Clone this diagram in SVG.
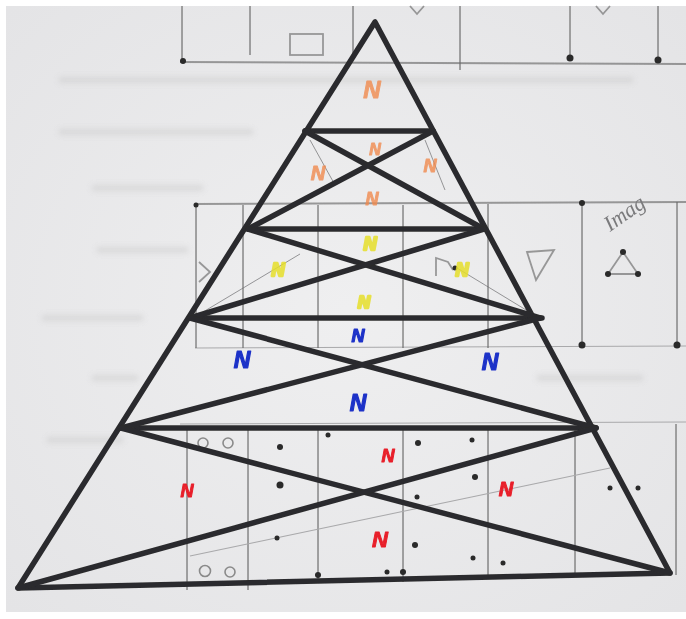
<svg xmlns="http://www.w3.org/2000/svg" width="686" height="619" viewBox="0 0 686 619">
<defs>
<filter id="soft" x="-5%" y="-5%" width="110%" height="110%"><feGaussianBlur stdDeviation="0.7"/></filter>
<filter id="blur2" x="-20%" y="-50%" width="140%" height="200%"><feGaussianBlur stdDeviation="2.5"/></filter>
<radialGradient id="paper" cx="50%" cy="50%" r="70%">
<stop offset="0" stop-color="#efeff0"/><stop offset="1" stop-color="#e4e4e6"/>
</radialGradient>
</defs>
<style>
.grid{stroke:#6a6a6a;stroke-width:1.8;fill:none;opacity:.65}
.faint{stroke:#a9a9ab;stroke-width:1.2;fill:none}
.ghost{stroke:#c2c2c4;stroke-width:7;stroke-linecap:round;opacity:.35}
.dot{fill:#2a2a2a}
.ring{fill:none;stroke:#8a8a8a;stroke-width:1.6}
.beam{stroke:#2b2b2d;stroke-width:5.5;stroke-linecap:round;fill:none}
.pencil{stroke:#6e6e70;stroke-width:1;fill:none;opacity:.7}
.n{font-family:"Liberation Sans",Arial,sans-serif;font-weight:bold;font-style:italic;text-anchor:middle;stroke-linejoin:round}
.o{fill:#f08a4e;stroke:#f08a4e;stroke-width:1;opacity:.8}
.y{fill:#e6df2c;stroke:#e6df2c;stroke-width:2.5;opacity:.85}
.b{fill:#1f32c8;stroke:#1f32c8;stroke-width:1.2}
.r{fill:#e8202a;stroke:#e8202a;stroke-width:1}
</style>
<rect width="686" height="619" fill="#ffffff"/>
<rect x="6" y="6" width="680" height="606" fill="url(#paper)"/>

<g id="background" filter="url(#soft)">
<g filter="url(#blur2)">
<line class="ghost" x1="62" y1="80" x2="630" y2="80"/>
<line class="ghost" x1="62" y1="132" x2="250" y2="132"/>
<line class="ghost" x1="95" y1="188" x2="200" y2="188"/>
<line class="ghost" x1="100" y1="250" x2="185" y2="250"/>
<line class="ghost" x1="45" y1="318" x2="140" y2="318"/>
<line class="ghost" x1="95" y1="378" x2="135" y2="378"/>
<line class="ghost" x1="540" y1="378" x2="640" y2="378"/>
<line class="ghost" x1="50" y1="440" x2="120" y2="440"/>
</g>
<line class="grid" x1="180" y1="62" x2="686" y2="64"/>
<line class="grid" x1="182" y1="6" x2="182" y2="62"/>
<line class="grid" x1="250" y1="6" x2="250" y2="55"/>
<line class="grid" x1="353" y1="6" x2="353" y2="60"/>
<line class="grid" x1="460" y1="6" x2="460" y2="70"/>
<line class="grid" x1="570" y1="6" x2="570" y2="60"/>
<line class="grid" x1="658" y1="6" x2="658" y2="62"/>
<circle class="dot" cx="183" cy="61" r="3"/>
<circle class="dot" cx="570" cy="58" r="3.5"/>
<circle class="dot" cx="658" cy="60" r="3.5"/>
<rect class="grid" x="290" y="34" width="33" height="21"/>
<path class="grid" d="M410 6 L417 14 L424 6"/>
<path class="grid" d="M596 6 L603 14 L610 6"/>
<line class="grid" x1="195" y1="204" x2="686" y2="202"/>
<line class="faint" x1="195" y1="348" x2="686" y2="346"/>
<line class="grid" x1="196" y1="205" x2="196" y2="348"/>
<line class="grid" x1="243" y1="205" x2="243" y2="348"/>
<line class="grid" x1="318" y1="205" x2="318" y2="348"/>
<line class="grid" x1="403" y1="205" x2="403" y2="348"/>
<line class="grid" x1="488" y1="204" x2="488" y2="348"/>
<line class="grid" x1="582" y1="203" x2="582" y2="345"/>
<line class="grid" x1="677" y1="202" x2="677" y2="345"/>
<circle class="dot" cx="196" cy="205" r="2.5"/>
<circle class="dot" cx="582" cy="203" r="3"/>
<circle class="dot" cx="582" cy="345" r="3.5"/>
<circle class="dot" cx="677" cy="345" r="3.5"/>
<path class="grid" d="M199 262 L210 272 L199 282"/>
<path class="grid" d="M436 276 L436 258 L448 262 L453 270"/>
<circle class="dot" cx="455" cy="268" r="2.5"/>
<path class="grid" d="M527 252 L554 250 L536 280 Z"/>
<path class="grid" d="M623 252 L608 274 L638 274 Z"/>
<circle class="dot" cx="623" cy="252" r="3"/>
<circle class="dot" cx="608" cy="274" r="3"/>
<circle class="dot" cx="638" cy="274" r="3"/>
<text x="610" y="232" transform="rotate(-35 610 232)" font-family="'Liberation Serif',serif" font-style="italic" font-size="22" fill="#7a7a7c">Imag</text>
<line class="faint" x1="180" y1="424" x2="686" y2="422"/>
<line class="grid" x1="187" y1="426" x2="187" y2="590"/>
<line class="grid" x1="248" y1="426" x2="248" y2="590"/>
<line class="grid" x1="318" y1="426" x2="318" y2="582"/>
<line class="grid" x1="403" y1="426" x2="403" y2="582"/>
<line class="grid" x1="488" y1="426" x2="488" y2="578"/>
<line class="grid" x1="575" y1="426" x2="575" y2="575"/>
<line class="grid" x1="676" y1="424" x2="676" y2="575"/>
<line class="faint" x1="190" y1="556" x2="610" y2="468"/>
<circle class="ring" cx="203" cy="443" r="5"/>
<circle class="ring" cx="228" cy="443" r="5"/>
<circle class="ring" cx="205" cy="571" r="5.5"/>
<circle class="ring" cx="230" cy="572" r="5"/>
<circle class="dot" cx="280" cy="447" r="3"/>
<circle class="dot" cx="280" cy="485" r="3.5"/>
<circle class="dot" cx="277" cy="538" r="2.5"/>
<circle class="dot" cx="328" cy="435" r="2.5"/>
<circle class="dot" cx="418" cy="443" r="3"/>
<circle class="dot" cx="472" cy="440" r="2.5"/>
<circle class="dot" cx="475" cy="477" r="3"/>
<circle class="dot" cx="417" cy="497" r="2.5"/>
<circle class="dot" cx="415" cy="545" r="3"/>
<circle class="dot" cx="473" cy="558" r="2.5"/>
<circle class="dot" cx="503" cy="563" r="2.5"/>
<circle class="dot" cx="387" cy="572" r="2.5"/>
<circle class="dot" cx="403" cy="572" r="3"/>
<circle class="dot" cx="318" cy="575" r="3"/>
<circle class="dot" cx="610" cy="488" r="2.5"/>
<circle class="dot" cx="638" cy="488" r="2.5"/>
</g>

<g id="pencil-guides" filter="url(#soft)">
<line class="pencil" x1="193" y1="318" x2="300" y2="254"/>
<line class="pencil" x1="536" y1="316" x2="457" y2="268"/>
<line class="pencil" x1="310" y1="140" x2="335" y2="185"/>
<line class="pencil" x1="425" y1="140" x2="445" y2="190"/>
</g>

<g id="colour-marks" filter="url(#soft)">
<text class="n o" x="372" y="98" font-size="24">N</text>
<text class="n o" x="375" y="155" font-size="16">N</text>
<text class="n o" x="318" y="180" font-size="20">N</text>
<text class="n o" x="430" y="172" font-size="18">N</text>
<text class="n o" x="372" y="205" font-size="18">N</text>
<text class="n y" x="370" y="250" font-size="18">N</text>
<text class="n y" x="278" y="276" font-size="18">N</text>
<text class="n y" x="462" y="276" font-size="18">N</text>
<text class="n y" x="364" y="308" font-size="17">N</text>
<text class="n b" x="358" y="342" font-size="18">N</text>
<text class="n b" x="242" y="368" font-size="23">N</text>
<text class="n b" x="490" y="370" font-size="23">N</text>
<text class="n b" x="358" y="411" font-size="23">N</text>
<text class="n r" x="388" y="462" font-size="18">N</text>
<text class="n r" x="187" y="497" font-size="18">N</text>
<text class="n r" x="506" y="496" font-size="20">N</text>
<text class="n r" x="380" y="547" font-size="22">N</text>
</g>

<g id="triangle-frame" filter="url(#soft)">
<path class="beam" d="M375 22 L18 588 L670 573 Z" stroke-linejoin="round"/>
<line class="beam" x1="305" y1="131" x2="433" y2="131"/>
<line class="beam" x1="248" y1="229" x2="484" y2="229"/>
<line class="beam" x1="190" y1="318" x2="542" y2="318"/>
<line class="beam" x1="121" y1="428" x2="596" y2="428"/>
</g>

<g id="cross-braces" filter="url(#soft)">
<line class="beam" x1="305" y1="131" x2="484" y2="229"/>
<line class="beam" x1="433" y1="131" x2="248" y2="229"/>
<line class="beam" x1="248" y1="229" x2="540" y2="318"/>
<line class="beam" x1="484" y1="229" x2="190" y2="318"/>
<line class="beam" x1="190" y1="318" x2="596" y2="428"/>
<line class="beam" x1="540" y1="318" x2="121" y2="428"/>
<line class="beam" x1="121" y1="428" x2="670" y2="573"/>
<line class="beam" x1="596" y1="428" x2="18" y2="588"/>
</g>
</svg>
